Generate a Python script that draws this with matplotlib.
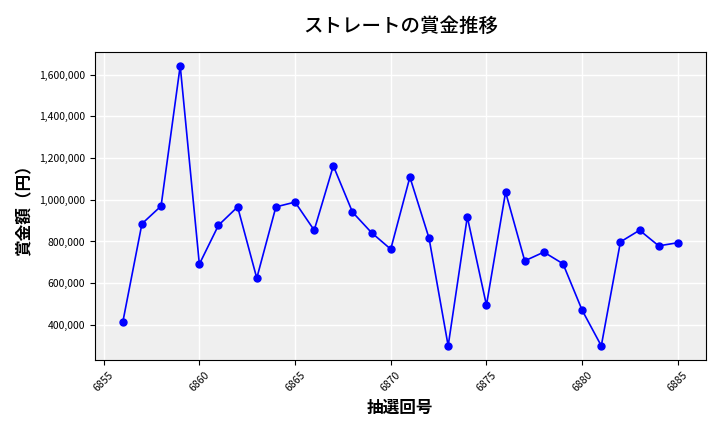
import matplotlib
matplotlib.use("Agg")
import matplotlib.pyplot as plt
from matplotlib.ticker import FuncFormatter

plt.rcParams['font.family'] = ['Noto Sans CJK JP', 'DejaVu Sans']

# 抽選回号 / 賞金額
draws = list(range(6856, 6886))
prize = [413000, 885000, 970000, 1643000, 691000, 878000, 966000, 624000,
         966000, 989000, 854000, 1163000, 941000, 842000, 763000, 1109000,
         816000, 299000, 918000, 494000, 1037000, 707000, 749000, 693000,
         470000, 299000, 798000, 854000, 779000, 794000]

fig, ax = plt.subplots(figsize=(7.2, 4.32), dpi=100)
ax.set_facecolor('#efefef')
ax.grid(True, color='white', linewidth=1)
ax.set_axisbelow(True)

ax.plot(draws, prize, color='blue', marker='o', markersize=5, linewidth=1.2)

ax.set_title('ストレートの賞金推移', fontsize=14, fontweight='medium', pad=14)
ax.set_xlabel('抽選回号', fontsize=12, fontweight='bold')
ax.set_ylabel('賞金額（円）', fontsize=12, fontweight='bold')
ax.yaxis.set_major_formatter(FuncFormatter(lambda v, p: f'{int(v):,}'))
ax.tick_params(axis='y', labelsize=7.5)
ax.tick_params(axis='x', labelsize=7.5)
plt.setp(ax.get_xticklabels(), rotation=45)

fig.subplots_adjust(left=0.132, right=0.98, top=0.88, bottom=0.167)
fig.savefig('out.png')
